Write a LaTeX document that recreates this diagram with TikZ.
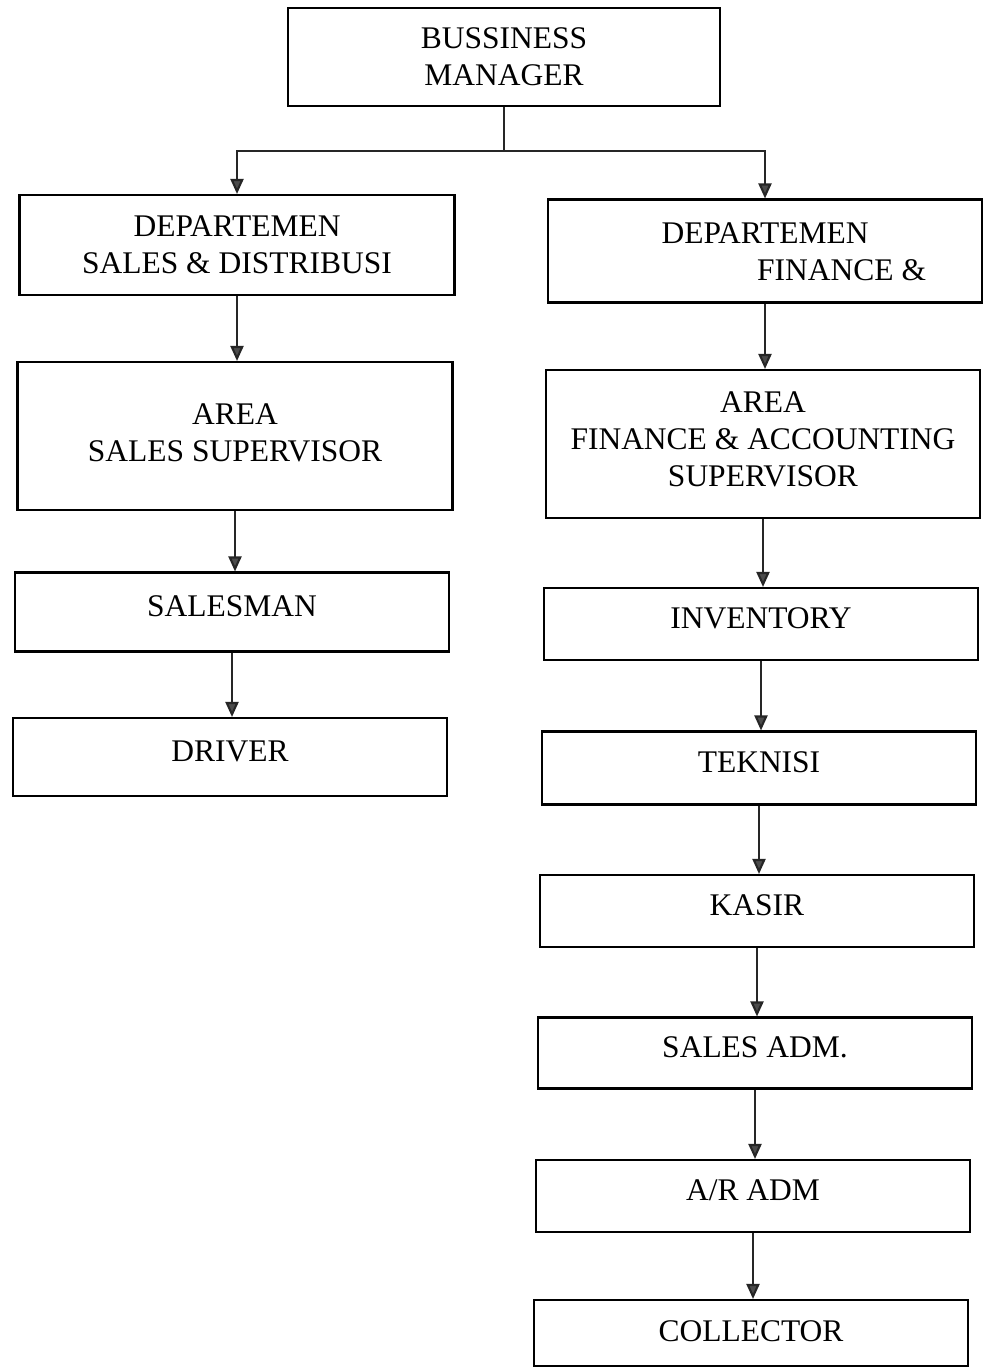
\documentclass[tikz,border=0pt]{standalone}
\usepackage{fontspec}
\setmainfont{Liberation Serif}
\usetikzlibrary{arrows.meta}
\begin{document}
\begin{tikzpicture}[x=1pt,y=-1pt,
  box/.style={draw=black,line width=2.1pt,minimum width=434pt,inner sep=0pt,align=center,
    font=\fontsize{31.5}{37}\selectfont},
  single/.style={box,text depth=12pt},
  txt/.style={inner sep=0pt,font=\fontsize{31.5}{37}\selectfont},
  conn/.style={line width=2.1pt,draw=black!85},
  arr/.style={conn,-{Triangle[width=13pt,length=15pt,fill=black!70]}}]
\useasboundingbox (0,0) rectangle (989,1369);
\fill[white] (0,0) rectangle (989,1369);
\node[box,minimum width=432pt,minimum height=98pt] (bm) at (504,57) {BUSSINESS\\MANAGER};
\node[box,minimum width=435pt,minimum height=100pt] (ds) at (237,245) {DEPARTEMEN\\SALES \& DISTRIBUSI};
\node[box,minimum height=103pt] (df) at (765,251) {};
\node[txt] (dft1) at (765,233) {DEPARTEMEN};
\node[txt,anchor=west] (dft2) at (757,270) {FINANCE \&};
\node[box,minimum width=435pt,minimum height=148pt,text depth=6pt] (as) at (235,436) {AREA\\SALES SUPERVISOR};
\node[box,minimum height=148pt,text depth=10pt] (af) at (763,444) {AREA\\FINANCE \& ACCOUNTING\\SUPERVISOR};
\node[single,minimum height=79pt] (sm) at (232,612) {SALESMAN};
\node[single,minimum height=78pt] (dr) at (230,757) {DRIVER};
\node[single,minimum height=72pt] (inv) at (761,624) {INVENTORY};
\node[single,minimum height=73pt] (tek) at (759,768) {TEKNISI};
\node[single,minimum height=72pt] (kas) at (757,911) {KASIR};
\node[single,minimum height=71pt] (sadm) at (755,1053) {SALES ADM.};
\node[single,minimum height=72pt] (ar) at (753,1196) {A/R ADM};
\node[box,minimum height=66pt,text depth=4pt] (col) at (751,1333) {COLLECTOR};
\draw[conn] (bm.south) -- ++(0,44) coordinate (j);
\draw[arr] (j) -| (ds.north);
\draw[arr] (j) -| (df.north);
\draw[arr] (ds.south) -- (ds.south |- as.north);
\draw[arr] (as.south) -- (as.south |- sm.north);
\draw[arr] (sm.south) -- (sm.south |- dr.north);
\draw[arr] (df.south) -- (df.south |- af.north);
\draw[arr] (af.south) -- (af.south |- inv.north);
\draw[arr] (inv.south) -- (inv.south |- tek.north);
\draw[arr] (tek.south) -- (tek.south |- kas.north);
\draw[arr] (kas.south) -- (kas.south |- sadm.north);
\draw[arr] (sadm.south) -- (sadm.south |- ar.north);
\draw[arr] (ar.south) -- (ar.south |- col.north);
\end{tikzpicture}
\end{document}
